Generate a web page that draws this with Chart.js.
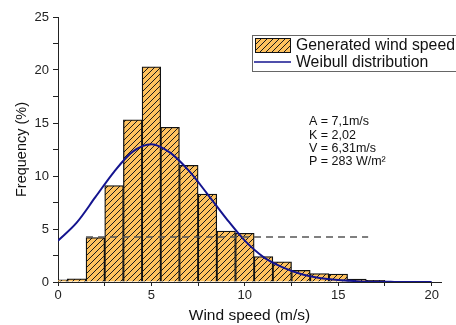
<!DOCTYPE html>
<html>
<head>
<meta charset="utf-8">
<title>Wind speed histogram</title>
<script src="https://cdn.jsdelivr.net/npm/chart.js@4.4.1/dist/chart.umd.min.js"></script>
<style>
  body { margin: 0; background: #fff; }
  canvas { display: block; }
</style>
</head>
<body>
<canvas id="windChart" width="456" height="325"></canvas>
<script>
// Histogram bins (bin centres, m/s) and frequency (%)
const binCenters = [0, 1, 2, 3, 4, 5, 6, 7, 8, 9, 10, 11, 12, 13, 14, 15, 16, 17, 18, 19];
const frequency = [0.2, 0.3, 4.2, 9.1, 15.3, 20.3, 14.6, 11.0, 8.3, 4.8, 4.6, 2.4, 1.9, 1.1, 0.8, 0.75, 0.28, 0.15, 0.05, 0];

// Weibull curve
const curveX = [0, 1, 2, 3, 4, 5, 6, 7, 8, 9, 10, 11, 12, 13, 14, 15, 16, 17, 18, 19, 20];
const curveY = [3.9, 5.6, 8.0, 10.4, 12.3, 13.0, 12.2, 10.5, 8.3, 6.0, 3.9, 2.35, 1.4, 0.75, 0.38, 0.18, 0.08, 0.03, 0.01, 0, 0];

// dashed reference line
const dashX = [1.5, 16.6];
const dashY = [4.25, 4.25];

const legendLabels = ["Generated wind speed", "Weibull distribution"];
const noteLines = ["A = 7,1m/s", "K = 2,02", "V = 6,31m/s", "P = 283 W/m²"];

const FONT = "Arial, 'Liberation Sans', sans-serif";
const ORANGE = "#ffc25e";
const NAVY = "#14148f";

// hatch pattern ////
function makeHatch() {
  const c = document.createElement("canvas");
  c.width = 6;
  c.height = 6;
  const g = c.getContext("2d");
  g.fillStyle = ORANGE;
  g.fillRect(0, 0, 6, 6);
  g.strokeStyle = "#1a1a1a";
  g.lineWidth = 1;
  g.beginPath();
  g.moveTo(-1, 7); g.lineTo(7, -1);
  g.moveTo(-1, 1); g.lineTo(1, -1);
  g.moveTo(5, 7); g.lineTo(7, 5);
  g.stroke();
  return g.createPattern(c, "repeat");
}
const hatch = makeHatch();

const boxAndNotes = {
  id: "boxAndNotes",
  afterDraw(chart) {
    const ctx = chart.ctx;
    ctx.save();
    // legend box
    ctx.strokeStyle = "#666";
    ctx.lineWidth = 1;
    ctx.fillStyle = "#fff";
    ctx.fillRect(252.5, 35.5, 210, 36);
    ctx.strokeRect(252.5, 35.5, 210, 36);
    ctx.fillStyle = hatch;
    ctx.fillRect(255.5, 38.5, 35, 14);
    ctx.strokeStyle = "#111";
    ctx.strokeRect(255.5, 38.5, 35, 14);
    ctx.strokeStyle = NAVY;
    ctx.lineWidth = 1.5;
    ctx.beginPath();
    ctx.moveTo(254, 62);
    ctx.lineTo(291, 62);
    ctx.stroke();
    ctx.fillStyle = "#111";
    ctx.font = "15.8px " + FONT;
    ctx.textBaseline = "middle";
    ctx.fillText(legendLabels[0], 296, 46);
    ctx.fillText(legendLabels[1], 296, 63);
    // parameters
    ctx.font = "12.5px " + FONT;
    noteLines.forEach((t, i) => {
      ctx.fillText(t, 309, 122 + i * 13.3);
    });
    ctx.restore();
  },
};

const ctx = document.getElementById("windChart");

new Chart(ctx, {
  type: "bar",
  data: {
    datasets: [
      {
        type: "line",
        label: "dash",
        data: dashX.map((x, i) => ({ x: x, y: dashY[i] })),
        borderColor: "#555",
        borderWidth: 1.5,
        borderDash: [7, 5],
        pointRadius: 0,
        order: 1,
      },
      {
        type: "line",
        label: legendLabels[1],
        data: curveX.map((x, i) => ({ x: x, y: curveY[i] })),
        borderColor: NAVY,
        borderWidth: 2,
        pointRadius: 0,
        cubicInterpolationMode: "monotone",
        order: 2,
      },
      {
        label: legendLabels[0],
        data: binCenters.map((x, i) => ({ x: x, y: frequency[i] })),
        backgroundColor: hatch,
        borderColor: "#111",
        borderWidth: 1.3,
        barPercentage: 1,
        categoryPercentage: 1,
        order: 3,
      },
    ],
  },
  options: {
    responsive: false,
    animation: false,
    devicePixelRatio: 1,
    layout: { padding: { top: 17, right: 15, left: 0, bottom: 0 } },
    plugins: {
      legend: { display: false },
      tooltip: { enabled: false },
    },
    scales: {
      x: {
        type: "linear",
        offset: false,
        min: 0,
        max: 20.5,
        afterFit: (s) => { s.height = 43; },
        border: { color: "#222", width: 1 },
        grid: { drawOnChartArea: false, offset: false, tickLength: 4, color: "#222" },
        ticks: {
          stepSize: 2.5,
          includeBounds: false,
          autoSkip: false,
          maxRotation: 0,
          padding: 2,
          color: "#222",
          font: { family: FONT, size: 13 },
          callback: (v) => (v % 5 === 0 ? v : ""),
        },
        title: {
          display: true,
          text: "Wind speed (m/s)",
          color: "#111",
          font: { family: FONT, size: 15.5 },
          padding: { top: 0, bottom: 0 },
        },
      },
      y: {
        min: 0,
        max: 25,
        afterFit: (s) => { s.width = 58; },
        border: { color: "#222", width: 1 },
        grid: { drawOnChartArea: false, tickLength: 5, color: "#222" },
        ticks: {
          stepSize: 2.5,
          autoSkip: false,
          padding: 4,
          color: "#222",
          font: { family: FONT, size: 13 },
          callback: (v) => (v % 5 === 0 ? v : ""),
        },
        title: {
          display: true,
          text: "Frequency (%)",
          color: "#111",
          font: { family: FONT, size: 14.5 },
          padding: { top: 13.5, bottom: 0 },
        },
      },
    },
  },
  plugins: [boxAndNotes],
});
</script>
</body>
</html>
